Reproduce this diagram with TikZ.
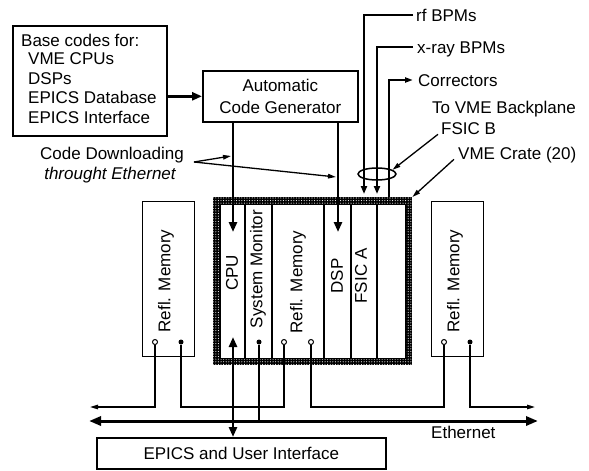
\documentclass[tikz,border=0pt]{standalone}
\usepackage{fontspec}
\setmainfont{Liberation Sans}
\usetikzlibrary{arrows.meta,shapes.geometric,patterns.meta,calc}
\newcommand\fnt{\fontsize{17}{20}\selectfont}
\begin{document}
\begin{tikzpicture}[x=1pt,y=-1pt,
  box/.style={draw, line width=1.6pt, inner sep=0pt},
  lbl/.style={inner sep=0pt, font=\fnt, text height=12.2pt, text depth=0pt},
  bigarr/.style={line width=2.6pt, -{Triangle[length=10pt,width=8pt]}},
  sig/.style={line width=2pt},
  thinarr/.style={line width=1.3pt, -{Triangle[length=8pt,width=4.5pt]}},
  wire/.style={line width=1.3pt},
  odot/.style={circle, draw, line width=1pt, fill=white, minimum size=5pt, inner sep=0pt},
  fdot/.style={circle, fill=black, minimum size=5pt, inner sep=0pt},
  slot/.style={line width=1.1pt},
  vlbl/.style={inner sep=0pt, font=\fnt, rotate=90},
]
\useasboundingbox (0,0) rectangle (589,471);

% base codes
\node[box, minimum width=154pt, minimum height=110pt, anchor=north west] (base) at (12,25) {};
\node[lbl, anchor=west] (b1) at (21,40) {Base codes for:};
\node[lbl, anchor=west] (b2) at (28,58) {VME CPUs};
\node[lbl, anchor=west] (b3) at (28,78) {DSPs};
\node[lbl, anchor=west] (b4) at (28,97) {EPICS Database};
\node[lbl, anchor=west] (b5) at (28,117) {EPICS Interface};

% automatic code generator
\node[box, align=center, font=\fnt, minimum width=155pt, minimum height=51pt, anchor=north west] (acg) at (202,70) {Automatic\\[2pt]Code Generator};
\draw[bigarr] (acg.west -| base.east) -- (acg.west);

% crate
\node[minimum width=199pt, minimum height=168pt, anchor=north west, inner sep=0pt] (crate) at (213,197) {};
\fill[black] (crate.north west) rectangle (crate.south east);
\fill[pattern={Dots[radius=0.55pt, distance=2.6pt]}, pattern color=white] (crate.north west) rectangle (crate.south east);
\fill[white] ($(crate.north west)+(7,7)$) rectangle ($(crate.south east)+(-7,-7)$);
\draw[line width=1pt] ($(crate.north west)+(7,7)$) rectangle ($(crate.south east)+(-7,-7)$);
\foreach \x in {245,272,324,351,377} \draw[slot] (\x,204) -- (\x,358);

\node[vlbl] (tcpu) at (232,273) {CPU};
\node[vlbl] (tsm) at (258,269) {System Monitor};
\node[vlbl] (trm) at (298,282) {Refl. Memory};
\node[vlbl] (tdsp) at (337,276) {DSP};
\node[vlbl] (tfa) at (361,276) {FSIC A};

% side reflective memories
\node[box, line width=1.3pt, minimum width=52pt, minimum height=155pt, anchor=north west] (rl) at (142,201) {};
\node[vlbl] (trl) at (166,281) {Refl. Memory};
\node[box, line width=1.3pt, minimum width=52pt, minimum height=155pt, anchor=north west] (rr) at (431,201) {};
\node[vlbl] (trr) at (455,281) {Refl. Memory};

% connectors
\node[odot] (c1) at (155,342) {};
\node[fdot] (c2) at (181,342) {};
\node[fdot] (csm) at (259,342) {};
\node[odot] (c3) at (284,342) {};
\node[odot] (c4) at (311,342) {};
\node[odot] (c5) at (444,342) {};
\node[fdot] (c6) at (470,342) {};

\coordinate (ringL) at (90,407);
\coordinate (ringR) at (535,407);
\draw[thinarr] (c1.south) |- (ringL);
\draw[wire] (c2.south) -- (c2 |- ringL) -| (c3.south);
\draw[wire] (c4.south) -- (c4 |- ringL) -| (c5.south);
\draw[thinarr] (c6.south) |- (ringR);

% ethernet
\coordinate (ethL) at (89,421);
\coordinate (ethR) at (538,421);
\draw[line width=3pt, {Triangle[length=12pt,width=9pt]}-{Triangle[length=12pt,width=9pt]}] (ethL) -- (ethR);
\node[lbl, anchor=west] (eth) at (431,432) {Ethernet};
\draw[line width=2.4pt] (csm.south) -- (csm |- ethL);

% EPICS
\node[box, font=\fnt, minimum width=289pt, minimum height=31pt, anchor=north west] (epics) at (96,437) {EPICS and User Interface};
\coordinate (cpuIn) at (233,337);
\draw[line width=2.6pt, {Triangle[length=10pt,width=8pt]}-{Triangle[length=10pt,width=8pt]}] (cpuIn) -- (cpuIn |- epics.north);

% downloads
\coordinate (cpuTip) at (233,232);
\coordinate (dspTip) at (338,232);
\draw[bigarr] (acg.south -| cpuTip) -- (cpuTip);
\draw[bigarr] (acg.south -| dspTip) -- (dspTip);

% signals
\node[lbl, anchor=west, inner xsep=3pt] (rf) at (413,15) {rf BPMs};
\node[lbl, anchor=west, inner xsep=4pt] (xr) at (413,47) {x-ray BPMs};
\node[lbl, anchor=west, inner xsep=5pt] (co) at (413,80) {Correctors};
\coordinate (rfEnd) at (364,194);
\coordinate (xrEnd) at (377,194);
\coordinate (coStart) at (389,197);
\draw[sig, -{Triangle[length=8pt,width=6pt]}] (rf.west) -| (rfEnd);
\draw[sig, -{Triangle[length=8pt,width=6pt]}] (xr.west) -| (xrEnd);
\draw[sig, -{Triangle[length=8pt,width=5pt]}] (coStart) |- (co.west);

\node[draw, ellipse, line width=1.5pt, minimum width=38pt, minimum height=12pt, inner sep=0pt] (fsicb) at (377,174) {};

\node[lbl, anchor=west] (tvb) at (432,107) {To VME Backplane};
\node[lbl, anchor=west] (fb) at (441,128) {FSIC B};
\node[lbl, anchor=west] (vc) at (458,153) {VME Crate (20)};
\draw[thinarr] ([xshift=-3pt]fb.south west) -- (fsicb.15);
\draw[thinarr] ([xshift=-4pt]vc.south west) -- (crate.north east);

% code downloading
\node[lbl] (cd1) at (112,153) {Code Downloading};
\node[lbl, font=\fnt\itshape] (cd2) at (110,173) {throught Ethernet};
\coordinate (cdTail) at (194,162);
\coordinate (cdA) at (231,156);
\coordinate (cdB) at (336,177);
\draw[thinarr] (cdTail) -- (cdA);
\draw[thinarr] (cdTail) -- (cdB);
\end{tikzpicture}
\end{document}
